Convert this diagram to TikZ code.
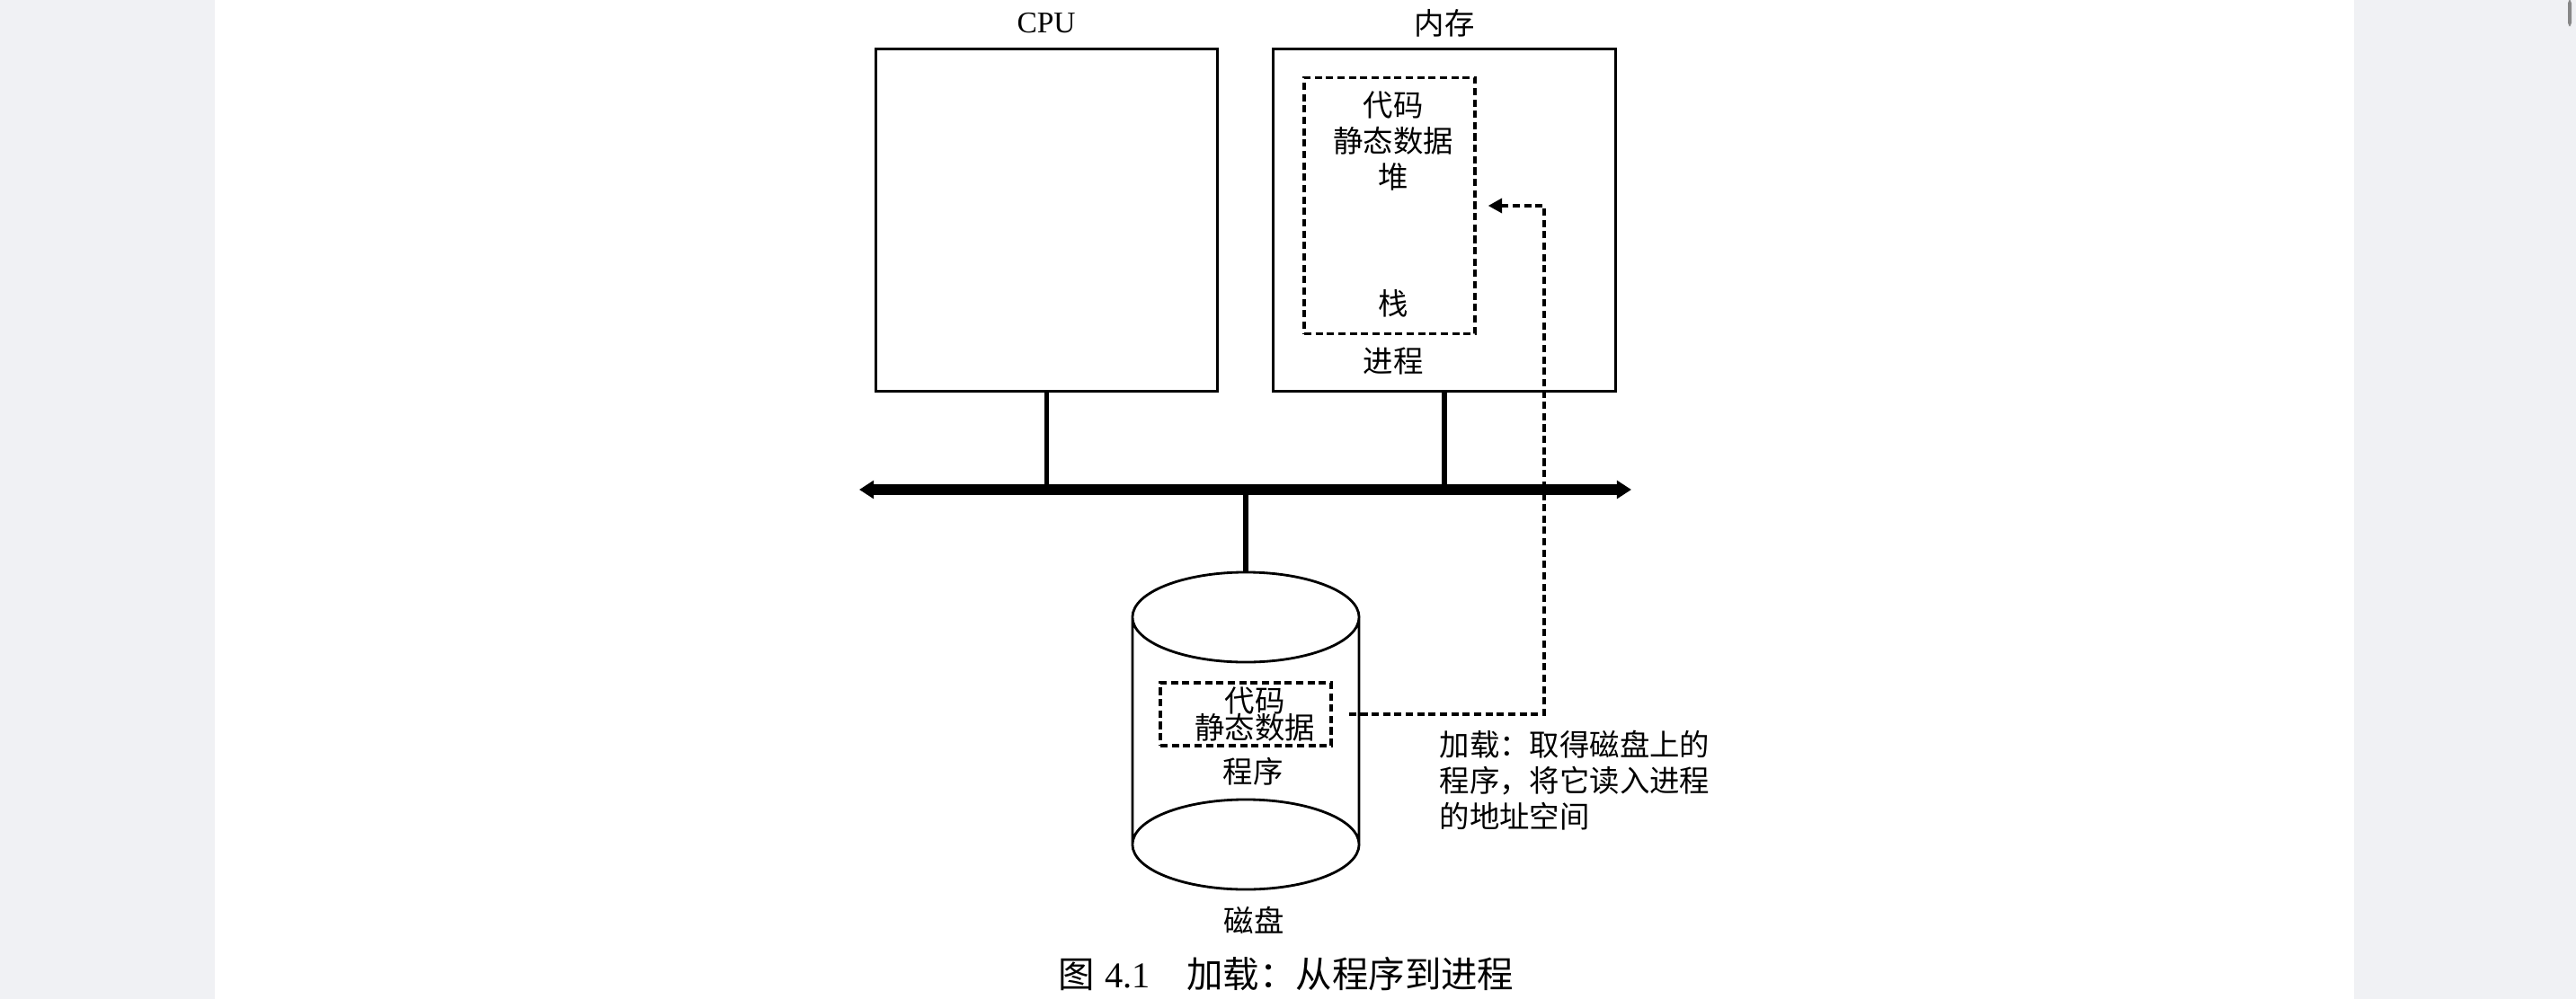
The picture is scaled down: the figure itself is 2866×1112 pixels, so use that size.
\documentclass[tikz,border=0pt]{standalone}
\usepackage{fontspec}
\setmainfont{Liberation Serif}
\newfontfamily\cjk{Noto Sans CJK SC}
\usetikzlibrary{
  calc,
  arrows.meta
}
\definecolor{pagegray}{RGB}{240,241,244}
\definecolor{bargray}{RGB}{135,135,135}

\begin{document}
\begin{tikzpicture}[x=0.01cm, y=-0.01cm]
  \tikzset{
    unitbox/.style = {draw, line width=0.8pt, inner sep=0,
      minimum width=3.8cm, minimum height=3.8cm},
    dashbox/.style = {draw, line width=0.95pt, inner sep=0,
      dash pattern=on 2.3pt off 1.3pt},
    cjktext/.style = {font=\cjk\fontsize{9.5}{11.4}\selectfont, inner sep=0},
    stem/.style = {line width=1.5pt},
    busline/.style = {line width=3.4pt,
      {Triangle[length=4.6pt,width=5.6pt]}-{Triangle[length=4.6pt,width=5.6pt]}},
    loadline/.style = {line width=0.95pt, dash pattern=on 2.3pt off 1.3pt,
      -{Triangle[length=4.4pt,width=4.6pt]}},
  }

  % page and margins
  \useasboundingbox (0,0) rectangle (2866,1112);
  \fill[pagegray] (0,0) rectangle (239,1112);
  \fill[pagegray] (2619,0) rectangle (2866,1112);
  \fill[bargray, rounded corners=1pt] (2857,0) rectangle (2861,29);

  % CPU and memory
  \node[unitbox] (cpu) at (1164.5,245) {};
  \node[unitbox] (mem) at (1607,245) {};
  \node[font=\fontsize{9.5}{11.4}\selectfont, inner sep=0] (cpu-l) at (1164,26) {CPU};
  \node[cjktext] (mem-l) at (1607,26) {内存};

  % process image in memory
  \node[dashbox, minimum width=1.9cm, minimum height=2.85cm] (proc) at (1546,229) {};
  \node[cjktext] (proc-code) at (1550,117) {代码};
  \node[cjktext] (proc-data) at (1550,157) {静态数据};
  \node[cjktext] (proc-heap) at (1550,197) {堆};
  \node[cjktext] (proc-stack) at (1550,338) {栈};
  \node[cjktext] (proc-l) at (1550,402) {进程};

  % bus
  \coordinate (bus-l) at (956,545);
  \coordinate (bus-r) at (1815,545);
  \draw[busline] (bus-l) -- (bus-r);
  \foreach \n in {cpu,mem}
  \draw[stem] (\n.south) -- (\n.south |- bus-l);

  % disk
  \coordinate (disk-t) at (1386,687);
  \coordinate (disk-b) at (1386,940);
  \draw[stem] (disk-t |- bus-l) -- ([yshift=0.5cm]disk-t);
  \draw[line width=0.8pt]
  (disk-t) ellipse [x radius=1.26cm, y radius=0.5cm]
  (disk-b) ellipse [x radius=1.26cm, y radius=0.5cm]
  ([xshift=-1.26cm]disk-t) -- ([xshift=-1.26cm]disk-b)
  ([xshift=1.26cm]disk-t) -- ([xshift=1.26cm]disk-b)
  ;
  \node[dashbox, minimum width=1.9cm, minimum height=0.7cm] (prog) at (1386,795) {};
  \node[cjktext] (prog-code) at (1396,780) {代码};
  \node[cjktext] (prog-data) at (1396,810) {静态数据};
  \node[cjktext] (prog-l) at (1394,859) {程序};
  \node[cjktext] (disk-l) at (1395,1024) {磁盘};

  % loading path
  \coordinate (bend) at (1718,229);
  \draw[loadline] ([xshift=1.8mm]prog.east) -| (bend) -- ([xshift=1.3mm]proc.east);
  \node[cjktext, anchor=north west, align=left] (load) at (1601,812)
  {加载：取得磁盘上的\\程序，将它读入进程\\的地址空间};

  % caption
  \node[font=\fontsize{11.5}{13}\selectfont, inner sep=0] (cap) at (1431,1084)
  {{\cjk 图}\;4.1\hspace{1em}{\cjk 加载：从程序到进程}};
\end{tikzpicture}
\end{document}
